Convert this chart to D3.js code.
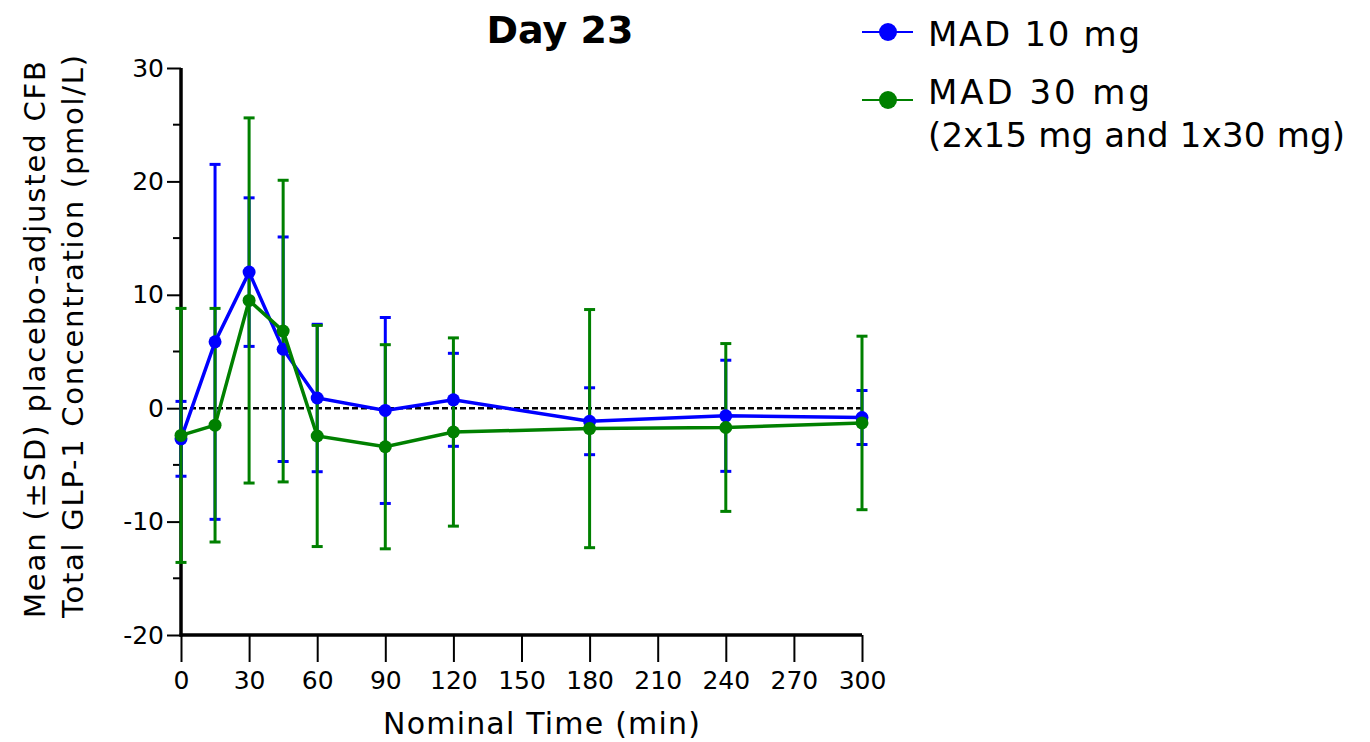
<!DOCTYPE html>
<html>
<head>
<meta charset="utf-8">
<script src="https://cdn.jsdelivr.net/npm/d3@7"></script>
<style>
  html, body { margin: 0; padding: 0; background: #fff; }
  svg { display: block; font-family: "DejaVu Sans", sans-serif; }
</style>
</head>
<body>
<div id="chart"></div>
<script>
// nominal sampling times (min)
const times = [0, 15, 30, 45, 60, 90, 120, 180, 240, 300];

// MAD 10 mg
const mad10Mean = [-2.7, 5.85, 12.0, 5.2, 0.9, -0.2, 0.74, -1.15, -0.67, -0.82];
const mad10SD   = [3.3, 15.65, 6.55, 9.9, 6.5, 8.2, 4.1, 2.95, 4.9, 2.38];

// MAD 30 mg (2x15 mg and 1x30 mg)
const mad30Mean = [-2.4, -1.5, 9.5, 6.8, -2.45, -3.4, -2.1, -1.8, -1.7, -1.3];
const mad30SD   = [11.2, 10.3, 16.1, 13.3, 9.75, 9.0, 8.3, 10.5, 7.4, 7.65];

const xTicks = [0, 30, 60, 90, 120, 150, 180, 210, 240, 270, 300];
const yTicks = [-20, -10, 0, 10, 20, 30];
const yMinorTicks = [-15, -5, 5, 15, 25];

const BLUE = "#0000ff";
const GREEN = "#008000";

const width = 1370, height = 742;
const svg = d3.select("#chart").append("svg")
  .attr("width", width).attr("height", height);

svg.append("rect").attr("width", width).attr("height", height).attr("fill", "#fff");

const x = d3.scaleLinear().domain([0, 300]).range([181, 862]);
const y = d3.scaleLinear().domain([-20, 30]).range([635, 68]);

// ===== Title =====
svg.append("text")
  .attr("x", 560).attr("y", 43)
  .attr("text-anchor", "middle")
  .attr("font-size", 38).attr("font-weight", "bold")
  .text("Day 23");

// ===== Axes =====
const yAxisG = svg.append("g").attr("transform", `translate(${x(0)},0)`);
yAxisG.call(d3.axisLeft(y).tickValues(yTicks).tickSize(14).tickPadding(3).tickFormat(d => String(d)))
  .call(g => g.select(".domain").remove())
  .call(g => g.selectAll("line").attr("stroke", "#000").attr("stroke-width", 2))
  .call(g => g.selectAll("text").attr("font-size", 25).attr("fill", "#000").attr("font-family", "DejaVu Sans"));
yAxisG.selectAll(".minor").data(yMinorTicks).enter().append("line")
  .attr("class", "minor")
  .attr("x1", -8).attr("x2", 0)
  .attr("y1", d => y(d)).attr("y2", d => y(d))
  .attr("stroke", "#000").attr("stroke-width", 2);

const xAxisG = svg.append("g").attr("transform", `translate(0,${y(-20)})`);
xAxisG.call(d3.axisBottom(x).tickValues(xTicks).tickSize(27).tickPadding(9).tickFormat(d => String(d)))
  .call(g => g.select(".domain").remove())
  .call(g => g.selectAll("line").attr("stroke", "#000").attr("stroke-width", 2))
  .call(g => g.selectAll("text").attr("font-size", 25).attr("fill", "#000").attr("font-family", "DejaVu Sans"));

// axis lines (thick)
svg.append("line")
  .attr("x1", x(0)).attr("x2", x(0)).attr("y1", y(30)).attr("y2", y(-20) + 1.5)
  .attr("stroke", "#000").attr("stroke-width", 3.5);
svg.append("line")
  .attr("x1", x(0) - 1.5).attr("x2", x(300)).attr("y1", y(-20)).attr("y2", y(-20))
  .attr("stroke", "#000").attr("stroke-width", 3.5);

// axis titles
svg.append("text")
  .attr("x", 383).attr("y", 734)
  .attr("font-size", 30)
  .attr("textLength", 317).attr("lengthAdjust", "spacing")
  .text("Nominal Time (min)");

const yTitle = svg.append("text")
  .attr("transform", "rotate(-90)")
  .attr("font-size", 29);
yTitle.append("tspan").attr("x", -618).attr("y", 45)
  .attr("textLength", 557).attr("lengthAdjust", "spacing")
  .text("Mean (±SD) placebo-adjusted CFB");
yTitle.append("tspan").attr("x", -618).attr("y", 83)
  .attr("textLength", 563).attr("lengthAdjust", "spacing")
  .text("Total GLP-1 Concentration (pmol/L)");

// zero reference line
svg.append("line")
  .attr("x1", x(0)).attr("x2", x(300)).attr("y1", y(0)).attr("y2", y(0))
  .attr("stroke", "#000").attr("stroke-width", 2.5)
  .attr("stroke-dasharray", "6,3");

// ===== Series =====
const series = [
  { name: "MAD 10 mg", color: BLUE, data: times.map((t, i) => ({ t, m: mad10Mean[i], sd: mad10SD[i] })) },
  { name: "MAD 30 mg", color: GREEN, data: times.map((t, i) => ({ t, m: mad30Mean[i], sd: mad30SD[i] })) }
];

const capW = 5.5;
series.forEach(s => {
  const eg = svg.append("g").attr("stroke", s.color);
  eg.selectAll(".bar").data(s.data).enter().append("line")
    .attr("x1", d => x(d.t)).attr("x2", d => x(d.t))
    .attr("y1", d => y(d.m - d.sd)).attr("y2", d => y(d.m + d.sd))
    .attr("stroke-width", 3);
  eg.selectAll(".capHi").data(s.data).enter().append("line")
    .attr("x1", d => x(d.t) - capW).attr("x2", d => x(d.t) + capW)
    .attr("y1", d => y(d.m + d.sd)).attr("y2", d => y(d.m + d.sd))
    .attr("stroke-width", 3);
  eg.selectAll(".capLo").data(s.data).enter().append("line")
    .attr("x1", d => x(d.t) - capW).attr("x2", d => x(d.t) + capW)
    .attr("y1", d => y(d.m - d.sd)).attr("y2", d => y(d.m - d.sd))
    .attr("stroke-width", 3);
});

const line = d3.line().x(d => x(d.t)).y(d => y(d.m));
series.forEach(s => {
  svg.append("path").datum(s.data)
    .attr("d", line)
    .attr("fill", "none")
    .attr("stroke", s.color)
    .attr("stroke-width", 3.5);
  svg.append("g").selectAll("circle").data(s.data).enter().append("circle")
    .attr("cx", d => x(d.t)).attr("cy", d => y(d.m))
    .attr("r", 6.5)
    .attr("fill", s.color);
});

// ===== Legend =====
const legend = svg.append("g");
const legItems = [
  { color: BLUE, cy: 32, lines: ["MAD 10 mg"], widths: [212], base: 46 },
  { color: GREEN, cy: 100, lines: ["MAD 30 mg", "(2x15 mg and 1x30 mg)"], widths: [222, 417], base: 104 }
];
legItems.forEach(item => {
  legend.append("line")
    .attr("x1", 862).attr("x2", 913).attr("y1", item.cy).attr("y2", item.cy)
    .attr("stroke", item.color).attr("stroke-width", 2);
  legend.append("circle")
    .attr("cx", 888).attr("cy", item.cy).attr("r", 9)
    .attr("fill", item.color);
  item.lines.forEach((txt, i) => {
    legend.append("text")
      .attr("x", 928).attr("y", item.base + i * 43)
      .attr("font-size", 34)
      .attr("textLength", item.widths[i]).attr("lengthAdjust", "spacing")
      .text(txt);
  });
});
</script>
</body>
</html>
